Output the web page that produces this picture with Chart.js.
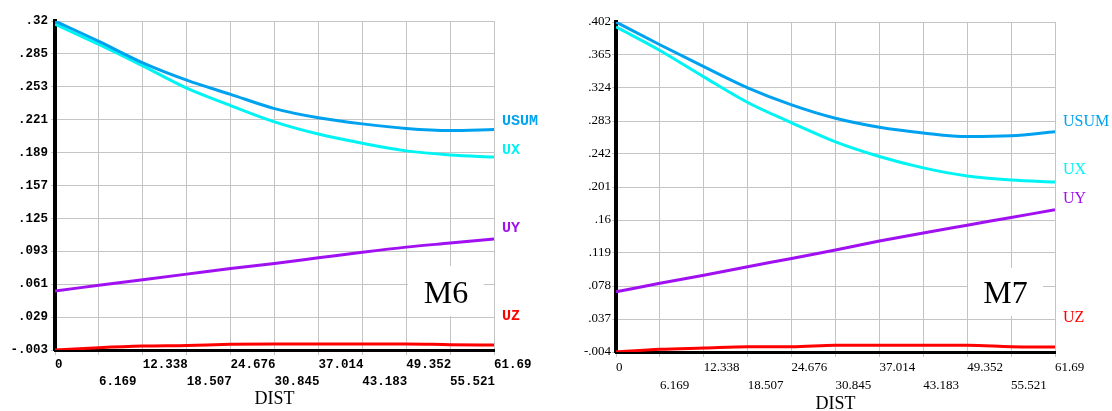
<!DOCTYPE html>
<html>
<head>
<meta charset="utf-8">
<script src="https://cdn.jsdelivr.net/npm/chart.js@4"></script>
<style>
  body { margin: 0; background: #fff; }
  #wrap { position: relative; width: 1112px; height: 411px; }
  canvas { position: absolute; top: 0; }
  #m6 { left: 0; }
  #m7 { left: 556px; }
</style>
</head>
<body>
<div id="wrap">
  <canvas id="m6" width="556" height="411"></canvas>
  <canvas id="m7" width="556" height="411"></canvas>
</div>
<script>
// distance along the path
const dist = [0, 6.169, 12.338, 18.507, 24.676, 30.845, 37.014, 43.183, 49.352, 55.521, 61.69];
const distLabels = ['0', '6.169', '12.338', '18.507', '24.676', '30.845', '37.014', '43.183', '49.352', '55.521', '61.69'];
const seriesNames = ['USUM', 'UX', 'UY', 'UZ'];

// M6
const usumM6 = [0.320, 0.300, 0.279, 0.262, 0.248, 0.234, 0.225, 0.219, 0.2145, 0.2125, 0.2135];
const uxM6 = [0.317, 0.297, 0.276, 0.254, 0.237, 0.221, 0.209, 0.200, 0.1925, 0.1885, 0.1865];
const uyM6 = [0.055, 0.0605, 0.066, 0.0715, 0.077, 0.082, 0.0875, 0.093, 0.098, 0.102, 0.106];
const uzM6 = [-0.003, -0.0007, 0.0009, 0.0015, 0.0026, 0.0029, 0.0029, 0.0029, 0.0029, 0.0022, 0.0019];
const yLabelsM6 = ['-.003', '.029', '.061', '.093', '.125', '.157', '.189', '.221', '.253', '.285', '.32'];
const yRangeM6 = [-0.003, 0.32];

// M7
const usumM7 = [0.402, 0.374, 0.347, 0.321, 0.300, 0.2835, 0.2725, 0.2655, 0.261, 0.262, 0.267];
const uxM7 = [0.396, 0.367, 0.3345, 0.303, 0.278, 0.2545, 0.2365, 0.2225, 0.2125, 0.2075, 0.205];
const uyM7 = [0.070, 0.0805, 0.0905, 0.101, 0.111, 0.1215, 0.1325, 0.1425, 0.152, 0.1615, 0.171];
const uzM7 = [-0.004, -0.0007, 0.0009, 0.0025, 0.0025, 0.0042, 0.0042, 0.0042, 0.0042, 0.0025, 0.002];
const yLabelsM7 = ['-.004', '.037', '.078', '.119', '.16', '.201', '.242', '.283', '.324', '.365', '.402'];
const yRangeM7 = [-0.004, 0.402];

const colors = ['#00a2f0', '#00f4f4', '#a010f0', '#ff0000'];

// draws USUM/UX/... next to the line ends and the M6 / M7 tag
const sideLabels = {
    id: 'sideLabels',
    afterDraw(chart, args, opts) {
        const {ctx, chartArea, scales} = chart;
        ctx.save();
        ctx.font = opts.font;
        ctx.textBaseline = 'middle';
        ctx.textAlign = 'left';
        chart.data.datasets.forEach((ds, i) => {
            const last = ds.data[ds.data.length - 1].y;
            const y = scales.y.getPixelForValue(last) - opts.lift[i];
            ctx.fillStyle = ds.borderColor;
            ctx.fillText(ds.label, chartArea.right + 8, y);
        });
        // tag box
        const bx = chartArea.right - opts.box[0];
        ctx.fillStyle = '#fff';
        ctx.fillRect(bx, opts.box[1], opts.box[2], opts.box[3]);
        ctx.fillStyle = '#000';
        ctx.font = '32px "Liberation Serif"';
        ctx.textAlign = 'center';
        ctx.textBaseline = 'alphabetic';
        ctx.fillText(opts.tag, bx + opts.box[2] / 2, 303);
        ctx.restore();
    }
};

function renderPanel(canvasId, tag, values, yLabels, yRange, look) {
    const ctx = document.getElementById(canvasId).getContext('2d');
    const step = (yRange[1] - yRange[0]) / (yLabels.length - 1);

    new Chart(ctx, {
        type: 'line',
        data: {
            datasets: values.map((vals, i) => ({
                label: seriesNames[i],
                data: vals.map((v, j) => ({x: dist[j], y: v})),
                borderColor: colors[i],
                borderWidth: 3,
                pointRadius: 0,
                cubicInterpolationMode: 'monotone'
            }))
        },
        options: {
            responsive: false,
            animation: false,
            layout: {padding: {top: look.top, right: look.right, left: 0, bottom: 0}},
            plugins: {
                legend: {display: false},
                tooltip: {enabled: false},
                sideLabels: {font: look.labelFont, lift: look.lift, tag: tag, box: look.box}
            },
            scales: {
                x: {
                    type: 'linear',
                    min: 0,
                    max: 61.69,
                    afterBuildTicks: scale => { scale.ticks = dist.map(v => ({value: v})); },
                    afterFit: scale => { scale.height = look.xHeight; },
                    grid: {color: '#c4c4c4', lineWidth: 1, tickLength: 5},
                    border: {color: '#000', width: 3},
                    ticks: {
                        autoSkip: false,
                        maxRotation: 0,
                        minRotation: 0,
                        align: 'start',
                        padding: 2,
                        color: '#000',
                        font: look.tickFont,
                        callback: (v, i) => i % 2 === 0 ? distLabels[i] : ['', distLabels[i]]
                    },
                    title: {
                        display: true,
                        text: 'DIST',
                        color: '#000',
                        font: {family: 'Liberation Serif', size: 18, lineHeight: 1},
                        padding: {top: 0, bottom: look.titlePad}
                    }
                },
                y: {
                    type: 'linear',
                    min: yRange[0],
                    max: yRange[1],
                    afterBuildTicks: scale => {
                        scale.ticks = yLabels.map((_, i) => ({value: yRange[0] + i * step}));
                    },
                    afterFit: scale => { scale.width = look.yWidth; },
                    grid: {color: '#c4c4c4', lineWidth: 1, tickLength: 4},
                    border: {color: '#000', width: 4},
                    ticks: {
                        padding: look.yPad,
                        color: '#000',
                        font: look.tickFont,
                        callback: (v, i) => yLabels[i]
                    }
                }
            }
        },
        plugins: [sideLabels]
    });
}

renderPanel('m6', 'M6', [usumM6, uxM6, uyM6, uzM6], yLabelsM6, yRangeM6, {
    top: 21, right: 62, yWidth: 55, xHeight: 61, yPad: 3, titlePad: 3,
    tickFont: {family: 'Liberation Mono', size: 12.5, weight: 'bold', lineHeight: 1.3},
    labelFont: 'bold 15px "Liberation Mono"',
    lift: [8, 7, 11, 29],
    box: [86, 266, 76, 50]
});

renderPanel('m7', 'M7', [usumM7, uxM7, uyM7, uzM7], yLabelsM7, yRangeM7, {
    top: 22, right: 57, yWidth: 60, xHeight: 59, yPad: 1, titlePad: -2,
    tickFont: {family: 'Liberation Serif', size: 13, lineHeight: 1.35},
    labelFont: '16px "Liberation Serif"',
    lift: [10, 12, 11, 29],
    box: [87, 268, 75, 48]
});
</script>
</body>
</html>
